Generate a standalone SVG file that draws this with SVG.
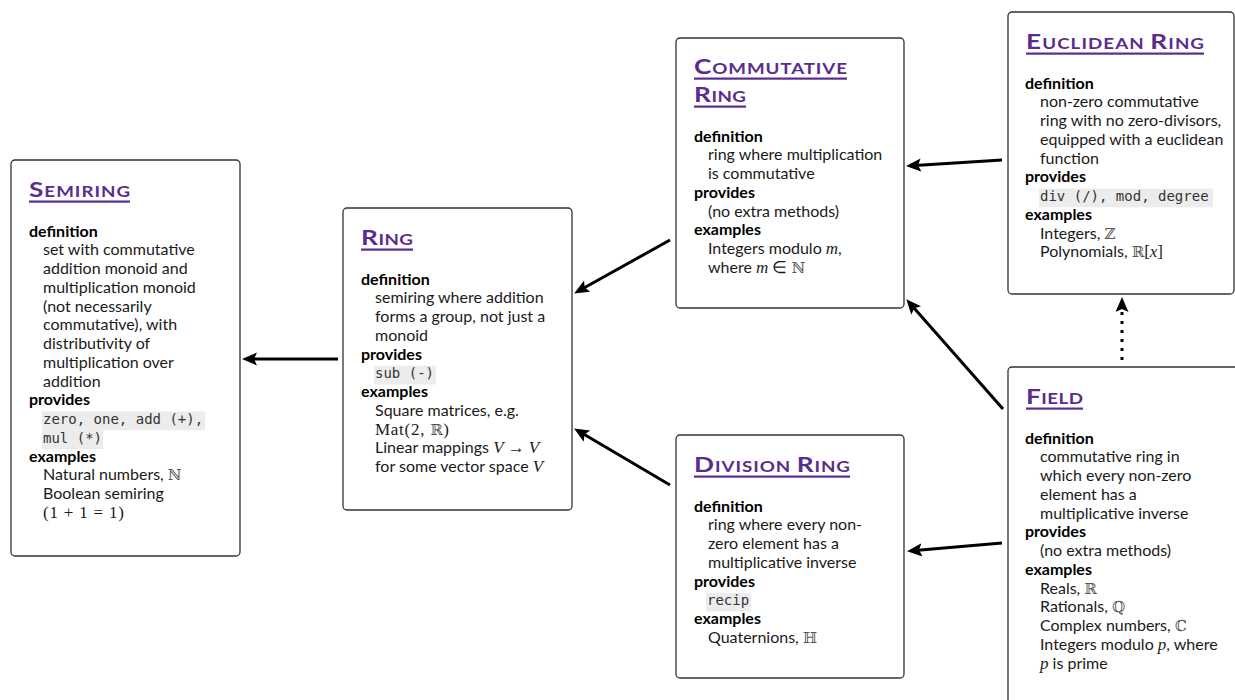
<svg xmlns="http://www.w3.org/2000/svg" width="1235" height="700" viewBox="0 0 1235 700">
<style>
.box{fill:#fff;stroke:#333;stroke-width:1.3}
.t{font-family:Lato,"Liberation Sans",sans-serif;font-size:16px;fill:#1a1a1a}
.h{font-weight:bold;fill:#000}
.mono{font-family:"DejaVu Sans Mono",monospace;font-size:14px;fill:#333}
.hl{fill:#ececec}
.ttl{font-family:Lato,"Liberation Sans",sans-serif;fill:#5b2c90;font-weight:bold}
.big{font-size:21px}
.sm{font-size:15px}
.ul{fill:#5b2c90}
.m{font-family:"Liberation Serif",serif;font-size:17px;fill:#1a1a1a}
.i{font-style:italic}
.bb{font-family:"DejaVu Serif",serif;font-size:15px;fill:#555}
.arr{stroke:#000;stroke-width:3;fill:none;marker-end:url(#ah)}
.dot{stroke-dasharray:3 6}
</style>
<defs>
<marker id="ah" markerUnits="userSpaceOnUse" markerWidth="16" markerHeight="14" refX="10" refY="6.5" orient="auto">
<path d="M0,0 L15,6.5 L0,13 L3,6.5 z" fill="#000"/>
</marker>
</defs>
<rect width="1235" height="700" fill="#fff"/>

<g id="connectors">
<line class="arr" x1="338" y1="359" x2="247" y2="359"/>
<line class="arr" x1="670" y1="240" x2="578.5" y2="291"/>
<line class="arr" x1="670" y1="485" x2="578.4" y2="431"/>
<line class="arr" x1="1002" y1="160" x2="911" y2="165.7"/>
<line class="arr" x1="1003" y1="409" x2="909.6" y2="303"/>
<line class="arr" x1="1002" y1="543" x2="912" y2="550.7"/>
<line class="arr dot" x1="1122" y1="360" x2="1122" y2="302"/>
</g>

<g id="semiring">
<rect class="box" x="11" y="160" width="229" height="396" rx="4"/>
<text class="ttl" transform="translate(29,197) scale(1.25,1)" textLength="80.8" lengthAdjust="spacing"><tspan class="big">S</tspan><tspan class="sm">EMIRING</tspan></text>
<rect class="ul" x="29" y="200.5" width="101" height="2.2"/>
<text class="t h" x="29" y="236.5">definition</text>
<text class="t" x="43" y="255.25">set with commutative</text>
<text class="t" x="43" y="274">addition monoid and</text>
<text class="t" x="43" y="292.75">multiplication monoid</text>
<text class="t" x="43" y="311.5">(not necessarily</text>
<text class="t" x="43" y="330.25">commutative), with</text>
<text class="t" x="43" y="349">distributivity of</text>
<text class="t" x="43" y="367.75">multiplication over</text>
<text class="t" x="43" y="386.5">addition</text>
<text class="t h" x="29" y="405.25">provides</text>
<rect class="hl" x="42" y="411.5" width="163" height="18.75"/>
<rect class="hl" x="42" y="430.25" width="61" height="18.75"/>
<text class="mono" x="43" y="424">zero, one, add (+),</text>
<text class="mono" x="43" y="442.75">mul (*)</text>
<text class="t h" x="29" y="461.5">examples</text>
<text class="t" x="43" y="480.25">Natural numbers, <tspan class="bb">ℕ</tspan></text>
<text class="t" x="43" y="499">Boolean semiring</text>
<text class="m" x="43" y="517.75" textLength="81" lengthAdjust="spacing">(1 + 1 = 1)</text>
</g>

<g id="ring">
<rect class="box" x="343" y="208" width="229" height="302" rx="4"/>
<text class="ttl" transform="translate(361,245) scale(1.25,1)" textLength="41.6" lengthAdjust="spacing"><tspan class="big">R</tspan><tspan class="sm">ING</tspan></text>
<rect class="ul" x="361" y="248.5" width="52" height="2.2"/>
<text class="t h" x="361" y="284.5">definition</text>
<text class="t" x="375" y="303.25">semiring where addition</text>
<text class="t" x="375" y="322">forms a group, not just a</text>
<text class="t" x="375" y="340.75">monoid</text>
<text class="t h" x="361" y="359.5">provides</text>
<rect class="hl" x="374" y="365.75" width="62" height="18.75"/>
<text class="mono" x="375" y="378.25">sub (-)</text>
<text class="t h" x="361" y="397">examples</text>
<text class="t" x="375" y="415.75">Square matrices, e.g.</text>
<text class="m" x="375" y="434.5" textLength="74" lengthAdjust="spacing">Mat(2, <tspan class="bb">ℝ</tspan>)</text>
<text class="t" x="375" y="453.25">Linear mappings <tspan class="m i">V</tspan> <tspan class="m">→</tspan> <tspan class="m i">V</tspan></text>
<text class="t" x="375" y="472">for some vector space <tspan class="m i">V</tspan></text>
</g>

<g id="commutative-ring">
<rect class="box" x="676" y="38" width="228" height="270" rx="4"/>
<text class="ttl" transform="translate(694,74) scale(1.25,1)" textLength="122.4" lengthAdjust="spacing"><tspan class="big">C</tspan><tspan class="sm">OMMUTATIVE</tspan></text>
<rect class="ul" x="694" y="77.5" width="153" height="2.2"/>
<text class="ttl" transform="translate(694,102) scale(1.25,1)" textLength="41.6" lengthAdjust="spacing"><tspan class="big">R</tspan><tspan class="sm">ING</tspan></text>
<rect class="ul" x="694" y="105.5" width="52" height="2.2"/>
<text class="t h" x="694" y="141.5">definition</text>
<text class="t" x="708" y="160.25">ring where multiplication</text>
<text class="t" x="708" y="179">is commutative</text>
<text class="t h" x="694" y="197.75">provides</text>
<text class="t" x="708" y="216.5">(no extra methods)</text>
<text class="t h" x="694" y="235.25">examples</text>
<text class="t" x="708" y="254">Integers modulo <tspan class="m i">m</tspan>,</text>
<text class="t" x="708" y="272.75">where <tspan class="m i">m</tspan> <tspan class="m">∈</tspan> <tspan class="bb">ℕ</tspan></text>
</g>

<g id="euclidean-ring">
<rect class="box" x="1008" y="12" width="226" height="282" rx="4"/>
<text class="ttl" transform="translate(1026,49) scale(1.25,1)" textLength="142.4" lengthAdjust="spacing"><tspan class="big">E</tspan><tspan class="sm">UCLIDEAN </tspan><tspan class="big">R</tspan><tspan class="sm">ING</tspan></text>
<rect class="ul" x="1026" y="52.5" width="178" height="2.2"/>
<text class="t h" x="1025" y="88.5">definition</text>
<text class="t" x="1040" y="107.25">non-zero commutative</text>
<text class="t" x="1040" y="126">ring with no zero-divisors,</text>
<text class="t" x="1040" y="144.75">equipped with a euclidean</text>
<text class="t" x="1040" y="163.5">function</text>
<text class="t h" x="1025" y="182.25">provides</text>
<rect class="hl" x="1039" y="188.5" width="174" height="18.75"/>
<text class="mono" x="1040" y="201">div (/), mod, degree</text>
<text class="t h" x="1025" y="219.75">examples</text>
<text class="t" x="1040" y="238.5">Integers, <tspan class="bb">ℤ</tspan></text>
<text class="t" x="1040" y="257.25">Polynomials, <tspan class="bb">ℝ</tspan><tspan class="m">[</tspan><tspan class="m i">x</tspan><tspan class="m">]</tspan></text>
</g>

<g id="division-ring">
<rect class="box" x="676" y="435" width="228" height="243" rx="4"/>
<text class="ttl" transform="translate(694,472) scale(1.25,1)" textLength="124.8" lengthAdjust="spacing"><tspan class="big">D</tspan><tspan class="sm">IVISION </tspan><tspan class="big">R</tspan><tspan class="sm">ING</tspan></text>
<rect class="ul" x="694" y="475.5" width="156" height="2.2"/>
<text class="t h" x="694" y="511.5">definition</text>
<text class="t" x="708" y="530.25">ring where every non-</text>
<text class="t" x="708" y="549">zero element has a</text>
<text class="t" x="708" y="567.75">multiplicative inverse</text>
<text class="t h" x="694" y="586.5">provides</text>
<rect class="hl" x="706" y="592.75" width="45" height="18.75"/>
<text class="mono" x="707" y="605.25">recip</text>
<text class="t h" x="694" y="624">examples</text>
<text class="t" x="708" y="642.75">Quaternions, <tspan class="bb">ℍ</tspan></text>
</g>

<g id="field">
<rect class="box" x="1008" y="367" width="240" height="360" rx="4"/>
<text class="ttl" transform="translate(1026,404) scale(1.25,1)" textLength="45.6" lengthAdjust="spacing"><tspan class="big">F</tspan><tspan class="sm">IELD</tspan></text>
<rect class="ul" x="1026" y="407.5" width="57" height="2.2"/>
<text class="t h" x="1025" y="443.5">definition</text>
<text class="t" x="1040" y="462.25">commutative ring in</text>
<text class="t" x="1040" y="481">which every non-zero</text>
<text class="t" x="1040" y="499.75">element has a</text>
<text class="t" x="1040" y="518.5">multiplicative inverse</text>
<text class="t h" x="1025" y="537.25">provides</text>
<text class="t" x="1040" y="556">(no extra methods)</text>
<text class="t h" x="1025" y="574.75">examples</text>
<text class="t" x="1040" y="593.5">Reals, <tspan class="bb">ℝ</tspan></text>
<text class="t" x="1040" y="612.25">Rationals, <tspan class="bb">ℚ</tspan></text>
<text class="t" x="1040" y="631">Complex numbers, <tspan class="bb">ℂ</tspan></text>
<text class="t" x="1040" y="649.75">Integers modulo <tspan class="m i">p</tspan>, where</text>
<text class="t" x="1040" y="668.5"><tspan class="m i">p</tspan> is prime</text>
</g>
</svg>
